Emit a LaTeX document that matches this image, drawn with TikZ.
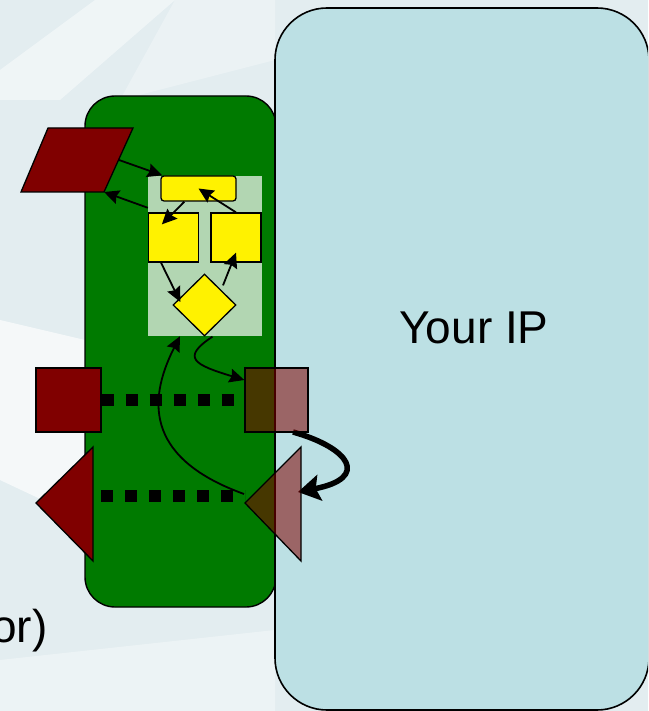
\documentclass[tikz,border=0pt]{standalone}
\usepackage{fontspec}
\setmainfont{Liberation Sans}
\usetikzlibrary{arrows.meta, shapes.geometric}
\definecolor{bgcol}{RGB}{227,237,240}
\definecolor{ipcyan}{RGB}{188,224,228}
\definecolor{shellgreen}{RGB}{0,122,0}
\definecolor{areagreen}{RGB}{178,214,178}
\definecolor{portred}{RGB}{128,0,0}
\tikzset{
  shell/.style={rectangle,draw,line width=1.4pt,fill=shellgreen,rounded corners=30pt,inner sep=0pt},
  ipbox/.style={rectangle,draw,line width=1.6pt,fill=ipcyan,rounded corners=52pt,inner sep=0pt},
  area/.style={rectangle,fill=areagreen,inner sep=0pt},
  block/.style={rectangle,draw,line width=1.3pt,fill=yellow,inner sep=0pt},
  choice/.style={diamond,draw,line width=1.3pt,fill=yellow,inner sep=0pt},
  port/.style={draw,line width=1.3pt,fill=portred},
  ghost/.style={draw,line width=1.3pt,fill=portred,fill opacity=.55},
  link/.style={line width=1.8pt,-{Stealth[length=15pt,width=14pt,inset=2pt]}},
  bold link/.style={line width=5.5pt,-{Stealth[length=22pt,width=26pt,inset=4pt]}},
  wire/.style={line width=11.5pt,dash pattern=on 12pt off 12pt},
  big/.style={font=\fontsize{46}{55}\selectfont,inner sep=0pt}
}

\begin{document}
\begin{tikzpicture}[x=1pt,y=-1pt]
\useasboundingbox (0,0) rectangle (648,711);
\clip (0,0) rectangle (648,711);
\fill[bgcol] (0,0) rectangle (648,711);
\fill[white,opacity=.45] (95,0) -- (175,0) -- (60,100) -- (0,100) -- (0,70) -- cycle;
\fill[white,opacity=.3] (175,0) -- (275,0) -- (275,60) -- (120,100) -- cycle;
\fill[white,opacity=.65] (0,320) -- (85,340) -- (85,520) -- (0,480) -- cycle;
\fill[white,opacity=.35] (0,660) -- (275,630) -- (275,711) -- (0,711) -- cycle;

\node[big, anchor=base west] (proc) at (-9,642) {or)};

\node[shell, minimum width=191pt, minimum height=511pt] (core) at (180.5,351.5) {};
\node[area, minimum width=114pt, minimum height=160pt] (fsm) at (205,256) {};
\node[block, rounded corners=3pt, minimum width=75pt, minimum height=25pt] (bar) at (198.5,188.5) {};
\node[block, minimum width=50pt, minimum height=49pt] (lsq) at (173.5,237.5) {};
\node[block, minimum width=50pt, minimum height=49pt] (rsq) at (236,237.5) {};
\node[choice, minimum width=63pt, minimum height=62pt] (dia) at (204.5,305) {};
\draw[link] ([xshift=24pt]bar.south west) -- ([xshift=14pt,yshift=-12pt]lsq.north west);
\draw[link] (rsq.north) -- (bar.center);
\draw[link] ([xshift=-12.5pt]lsq.south) -- ([xshift=8pt,yshift=3pt]dia.west);
\draw[link] ([xshift=18.5pt,yshift=-12pt]dia.north) -- ([yshift=10pt]rsq.south);

\node[ipbox, minimum width=374pt, minimum height=702pt] (ip) at (462,359) {};
\node[big] (iptext) at (474,328) {Your IP};

\draw[port] (48,128) -- (133,128) -- (104,192) -- (21,192) -- cycle;
\coordinate (pin) at (119,160);
\coordinate (pout) at (104,192);
\draw[link] (pin) -- ([xshift=2pt]bar.north west);
\draw[link] ([yshift=-32pt]fsm.north west) -- (pout);

\node[port, rectangle, inner sep=0pt, minimum width=65pt, minimum height=64pt] (insq) at (68.5,400) {};
\draw[port] (36,503) -- (93,447) -- (93,561) -- cycle;
\coordinate (intri) at (101,496);
\coordinate (outtri) at (245,496);
\coordinate (turn) at (293,432);
\coordinate (loop) at (298,492);
\coordinate (tap) at (244,494);

\draw[bold link] (turn) .. controls (350,448) and (370,478) .. (loop);
\node[ghost, rectangle, inner sep=0pt, minimum width=63pt, minimum height=64pt] (outsq) at (276.5,400) {};
\draw[ghost] (245,503) -- (301,447) -- (301,561) -- cycle;

\draw[wire] (insq.east) -- (outsq.west);
\draw[wire] (intri) -- (outtri);

\draw[link] ([xshift=8pt]dia.south) .. controls (180,358) and (195,365) .. ([yshift=20pt]outsq.west);
\draw[link] (tap) .. controls (150,460) and (145,405) .. ([xshift=-25pt]fsm.south);
\end{tikzpicture}
\end{document}
